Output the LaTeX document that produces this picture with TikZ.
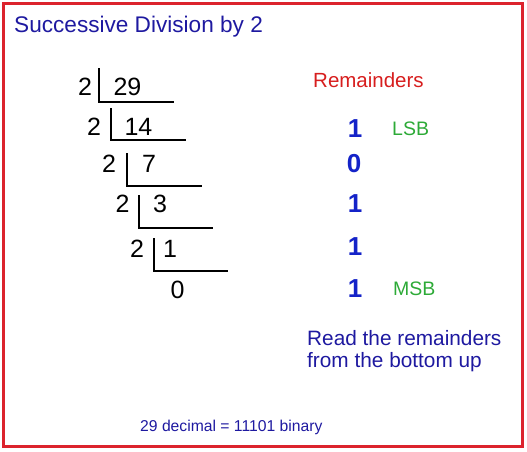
\documentclass[tikz,border=0pt]{standalone}
\usepackage{fontspec}
\setmainfont{Liberation Sans}
\usepackage{xcolor}
\usepackage{tikz}
\usetikzlibrary{positioning}

\definecolor{framered}{RGB}{220,35,45}
\definecolor{navy}{RGB}{30,25,160}
\definecolor{remblue}{RGB}{20,35,200}
\definecolor{remred}{RGB}{215,30,30}
\definecolor{bitgreen}{RGB}{45,170,55}

\begin{document}
\begin{tikzpicture}[
    x=1pt, y=-1pt,
    heading/.style={anchor=base west, inner sep=0pt, text=navy,
      font=\fontsize{22.6}{26}\selectfont},
    digit/.style={anchor=base, inner sep=0pt,
      font=\fontsize{25}{29}\selectfont},
    rem/.style={anchor=base, inner sep=0pt, text=remblue,
      font=\bfseries\fontsize{26}{30}\selectfont},
    bitlabel/.style={anchor=base west, inner sep=0pt, text=bitgreen,
      font=\fontsize{19.5}{23}\selectfont},
    note/.style={anchor=base west, inner sep=0pt, text=navy,
      font=\fontsize{20.8}{24}\selectfont},
    bracket/.style={line width=2.6pt, line join=miter}
]
\useasboundingbox (0,0) rectangle (527,452);
\draw[framered, line width=3pt] (3.5,3.5) rectangle (522,446.5);

\node[heading] (title) at (14,33) {Successive Division by 2};

% divisions
\node[digit] (d1) at (85,95) {2};
\node[digit] (q1) at (127.5,95) {29};
\node[digit] (d2) at (94,135) {2};
\node[digit] (q2) at (138.5,135) {14};
\node[digit] (d3) at (109,172) {2};
\node[digit] (q3) at (149,172) {7};
\node[digit] (d4) at (122.5,212) {2};
\node[digit] (q4) at (160,212) {3};
\node[digit] (d5) at (137,257) {2};
\node[digit] (q5) at (170,257) {1};
\node[digit] (q6) at (177.5,298) {0};

\coordinate (b1) at (99,68);   \coordinate (e1) at (174,102);
\coordinate (b2) at (111,108); \coordinate (e2) at (186,140);
\coordinate (b3) at (127,153); \coordinate (e3) at (202,186);
\coordinate (b4) at (139,195); \coordinate (e4) at (213,228);
\coordinate (b5) at (154,238); \coordinate (e5) at (228,271);
\draw[bracket] (b1) |- (e1);
\draw[bracket] (b2) |- (e2);
\draw[bracket] (b3) |- (e3);
\draw[bracket] (b4) |- (e4);
\draw[bracket] (b5) |- (e5);

% remainders
\node[anchor=base west, inner sep=0pt, text=remred,
  font=\fontsize{20.5}{24}\selectfont] (remhead) at (313,88) {Remainders};
\node[rem] (r1) at (355,137) {1};
\node[rem] (r2) at (354,172) {0};
\node[rem] (r3) at (355,212) {1};
\node[rem] (r4) at (355,255) {1};
\node[rem] (r5) at (355,297) {1};
\node[bitlabel] (lsb) at (392,135) {LSB};
\node[bitlabel] (msb) at (393,295) {MSB};

\node[note] (read1) at (307,345) {Read the remainders};
\node[note] (read2) at (307,367) {from the bottom up};

\node[anchor=base west, inner sep=0pt, text=navy,
  font=\fontsize{15.7}{19}\selectfont] (result) at (140,431)
  {29 decimal = 11101 binary};
\end{tikzpicture}
\end{document}
